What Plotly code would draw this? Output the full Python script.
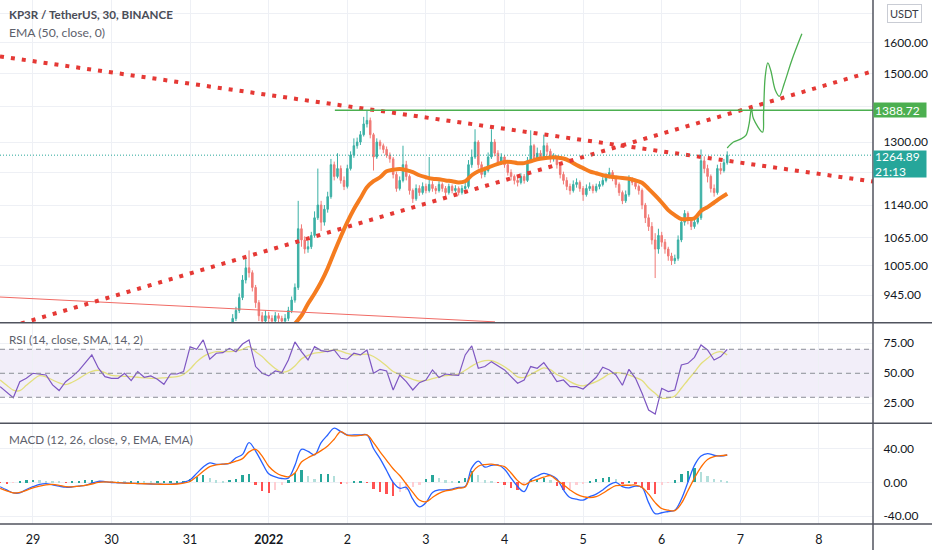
import math
import pandas as pd
import plotly.graph_objects as go
from plotly.subplots import make_subplots

# ---- price data (hourly candles) ----
candle_start = "2021-12-31 12:00"
first_open = 870
closes = [880, 900, 915, 940, 975, 1000, 990, 960, 930, 905, 895, 905,
          900, 895, 905, 900, 895, 900, 915, 935, 960, 1085, 1060, 1040,
          1045, 1070, 1110, 1140, 1100, 1130, 1160, 1240, 1210, 1230, 1200, 1185,
          1230, 1265, 1290, 1300, 1320, 1350, 1360, 1320, 1260, 1300, 1290, 1280,
          1265, 1255, 1215, 1180, 1200, 1240, 1210, 1175, 1155, 1180, 1170, 1185,
          1175, 1190, 1180, 1175, 1190, 1180, 1170, 1185, 1175, 1180, 1170, 1180,
          1185, 1240, 1260, 1300, 1240, 1215, 1225, 1260, 1300, 1270, 1245, 1260,
          1240, 1220, 1210, 1200, 1195, 1210, 1200, 1250, 1290, 1255, 1270, 1260,
          1290, 1275, 1255, 1260, 1240, 1215, 1200, 1185, 1175, 1190, 1195, 1180,
          1165, 1180, 1185, 1175, 1185, 1190, 1200, 1210, 1220, 1205, 1190, 1170,
          1150, 1165, 1200, 1195, 1185, 1175, 1140, 1110, 1090, 1060, 1040, 1070,
          1055, 1040, 1025, 1015, 1020, 1060, 1100, 1120, 1105, 1090, 1100, 1110,
          1250, 1230, 1210, 1180, 1170, 1230, 1225, 1245, 1264.89]
highs = [888, 908, 922, 948, 985, 1020, 1037, 995, 965, 935, 912, 915,
         912, 906, 912, 910, 905, 908, 922, 942, 968, 1150, 1095, 1068,
         1058, 1078, 1125, 1230, 1150, 1140, 1172, 1255, 1248, 1270, 1238, 1210,
         1240, 1275, 1310, 1312, 1330, 1370, 1388.72, 1368, 1325, 1310, 1306, 1296,
         1288, 1272, 1260, 1222, 1210, 1290, 1250, 1215, 1180, 1190, 1188, 1195,
         1192, 1260, 1198, 1186, 1198, 1195, 1186, 1192, 1190, 1188, 1185, 1188,
         1195, 1252, 1280, 1335, 1305, 1248, 1235, 1272, 1335, 1308, 1278, 1270,
         1265, 1246, 1228, 1215, 1208, 1218, 1216, 1260, 1332, 1295, 1285, 1278,
         1320, 1298, 1282, 1270, 1265, 1245, 1222, 1208, 1192, 1200, 1205, 1200,
         1186, 1190, 1195, 1190, 1192, 1198, 1208, 1218, 1232, 1226, 1210, 1195,
         1175, 1175, 1213, 1208, 1200, 1190, 1180, 1145, 1118, 1100, 1075, 1085,
         1078, 1062, 1045, 1032, 1028, 1070, 1110, 1128, 1125, 1112, 1108, 1120,
         1280, 1262, 1240, 1215, 1190, 1240, 1245, 1255, 1275]
lows = [862, 875, 895, 910, 935, 968, 980, 952, 920, 895, 885, 888,
        890, 886, 888, 892, 885, 888, 895, 910, 930, 955, 1045, 1030,
        1032, 1040, 1065, 1105, 1080, 1092, 1122, 1155, 1200, 1205, 1192, 1176,
        1180, 1225, 1258, 1282, 1292, 1315, 1340, 1310, 1225, 1255, 1280, 1270,
        1258, 1245, 1205, 1172, 1175, 1195, 1200, 1165, 1145, 1150, 1162, 1165,
        1168, 1170, 1172, 1166, 1170, 1172, 1162, 1165, 1168, 1170, 1163, 1165,
        1175, 1180, 1232, 1255, 1230, 1205, 1208, 1220, 1255, 1262, 1238, 1240,
        1232, 1212, 1200, 1190, 1185, 1190, 1192, 1196, 1245, 1248, 1250, 1252,
        1255, 1265, 1245, 1248, 1230, 1205, 1190, 1176, 1165, 1170, 1182, 1172,
        1150, 1160, 1174, 1168, 1170, 1178, 1185, 1195, 1205, 1198, 1182, 1162,
        1142, 1145, 1160, 1188, 1178, 1165, 1130, 1098, 1080, 1050, 979, 1030,
        1045, 1030, 1015, 1006, 1008, 1015, 1055, 1092, 1095, 1082, 1085, 1095,
        1105, 1218, 1195, 1170, 1160, 1165, 1215, 1220, 1240]

# EMA 50, every 2 hours
ema_start = "2021-12-31 12:00"
ema = [835, 840, 845, 850, 853, 856, 860, 863, 866, 872, 890, 905,
       928, 948, 971, 999, 1033, 1067, 1100, 1130, 1156, 1183, 1198, 1208,
       1223, 1227, 1229, 1226, 1221, 1213, 1208, 1204, 1203, 1200, 1198, 1195,
       1198, 1213, 1223, 1229, 1236, 1242, 1247, 1247, 1244, 1244, 1249, 1254,
       1257, 1259, 1259, 1256, 1249, 1239, 1231, 1223, 1218, 1213, 1210, 1208,
       1206, 1204, 1200, 1194, 1179, 1163, 1146, 1128, 1116, 1107, 1107, 1109,
       1126, 1135, 1146, 1157, 1167]

# ---- indicators, every 2 hours ----
ind_start = "2021-12-28 14:00"
rsi = [38.9, 33.9, 29.7, 43, 45.8, 50, 49.4, 48.6, 40.3, 35.6, 43, 47.2,
       52.2, 58.3, 65.3, 54.2, 47.2, 45.8, 45.8, 50, 43.9, 51.4, 46.7, 47.8,
       45, 40.8, 49.4, 49.4, 51.4, 72, 70, 77.8, 61.7, 66.7, 67.2, 70.8,
       68, 74.4, 77.8, 55.6, 50, 47.8, 51.9, 50.6, 61.1, 76.1, 68, 61.1,
       72.2, 68.9, 68, 69.4, 62.5, 61.7, 66.7, 65.3, 69.4, 50, 53.3, 51.9,
       36.1, 48.6, 43, 36.1, 42.2, 44.4, 52.8, 46.4, 49.4, 48.6, 48.3, 65.3,
       72.8, 54.2, 55.6, 59.7, 56.1, 52.8, 47.2, 41.7, 44.4, 55.6, 54.2, 58.9,
       51.4, 43, 44.4, 38.9, 38.9, 36.9, 41.7, 46.7, 55, 52.8, 48.6, 40,
       53.3, 45.8, 33.3, 19.4, 16, 37.5, 34.7, 36.1, 56.9, 58.3, 63.3, 73.6,
       69.4, 61.1, 63.9, 70]
rsi_ma = [44.4, 40, 36, 35.5, 40, 44.4, 48, 47, 44.4, 42, 40.5, 42.5,
          45.5, 49, 51.5, 52.5, 50.5, 48.2, 47.8, 47.5, 47.2, 46.7, 46.2, 45.8,
          45.8, 46.2, 46.7, 47.2, 49, 53.5, 59.5, 63.9, 66.5, 68, 68, 68,
          68.5, 70, 72.2, 68, 64, 58.5, 54, 51, 52, 56, 62, 65,
          66.7, 67.5, 68.5, 69.4, 68.5, 66.5, 65.3, 65.5, 66, 64, 60.5, 56,
          51.5, 49, 47, 45, 43.5, 44, 45.5, 47, 48, 48.5, 49.5, 52.5,
          56, 59, 60.5, 60.5, 58.5, 55.5, 51.5, 47, 46.5, 49, 52, 54.5,
          53, 49, 46.5, 43, 40.5, 39.5, 41, 43, 46, 49.5, 50.5, 50,
          48.5, 46.5, 44, 38, 33.3, 29.2, 29.5, 31, 37.5, 44.4, 51, 58,
          62.5, 66.7, 68, 65.3]
macd = [-5.2, -9, -12.5, -12.5, -8.5, -5.2, -2.5, -1.5, -3, -4.5, -5.8, -5.5,
        -4.5, -3.5, -1, 1.2, 0.8, -0.2, -0.5, -0.8, -1.2, -1.4, -1.6, -2,
        -2.2, -2.4, -2.2, -1.5, 0, 3, 10.6, 18, 23, 21.3, 21.5, 22.5,
        29, 33, 47, 37, 23, 10, 6.5, 4.5, 5, 20, 39, 36.5,
        32.5, 47, 56, 64, 60, 56, 56, 56, 56, 40, 28, 14,
        0, -7, -6, -20, -29, -24, -12, -9, -9, -8, -6, -5,
        17, 25, 18, 20, 20.5, 15.5, 5, -5, -11, 3, 7.5, 10.5,
        8.5, 4, -9, -18, -20, -21, -17, -14, -9, -3, 0, -5,
        -6.5, -4.5, -6, -24, -37, -36, -34.5, -33, -20, 0, 20, 31,
        34, 32, 31, 32.3]
signal = [-7.1, -10, -12.5, -12, -9.5, -6.5, -4.5, -3, -2.5, -3.5, -5, -5.5,
          -4.5, -3.5, -2, -0.2, 0.5, 0.2, -0.4, -0.9, -1.2, -1.5, -1.7, -1.9,
          -2.2, -2.4, -2.5, -2, -1, 1, 6.7, 13, 18.5, 20.5, 21.5, 22.5,
          25, 28, 36, 39, 31, 19, 12, 8, 6.5, 11, 24, 29,
          33, 37.5, 43, 51, 60, 55.5, 55, 55.5, 56, 47, 36, 26,
          16, 8, -2, -12, -21, -23, -18, -13, -10, -9, -7, -5.5,
          11, 19, 21, 21.5, 20, 18.5, 11, 2, -3, 1, 3.5, 6,
          8, 2.5, -3, -9, -14, -17, -18, -17, -13, -8, -4, -3.5,
          -3.5, -3.2, -6, -14, -24, -31, -33, -33.5, -25, -10, 5, 18,
          27, 30.5, 31.5, 32.3]
hist = [-1, -1.5, -1, 0.5, 2, 2.5, 2, 1.5, 0.5, 0.3, -0.5, 1,
        1.5, 2, 2, 1.5, 0.8, 0.5, 0.4, 0.3, 0.3, 0.5, 0.4, 0.2,
        0.3, 0.5, 0.6, 0.8, 1, 3, 6, 8.5, 5, 2, 1.5, 2.5,
        4, 8, 10, -4, -11, -13, -9, -4, 2, 11, 14, 7,
        4, 9, 10, 7, -2, -1.5, 0.5, 0.5, -1, -8, -12, -14,
        -17, -12, -9, -6, -3, 3, 8, 5, 2, 1, 1, 5,
        13, 8, 2, 1, -1, -3, -7, -9, -4, 3, 4, 4.5,
        2, -5, -9, -8, -3, -2, 1, 3, 5, 5.5, 3, -2,
        1.5, -2, -6, -9, -14, -3, -1, 2, 9, 13, 16, 12,
        7, 4, 2.5, 1.5]

# ---- drawings on the chart ----
view_start, view_end = "2021-12-28 13:57", "2022-01-08 16:31"
desc_line_p = [1554, 1197]
asc_line_p = [879, 1507]
red_line_t = [view_start, "2022-01-03 21:06"]
red_line_p = [941, 893.5]
level_t = ["2022-01-01 20:12", view_end]
level_price = 1388.72
last_price = 1264.89
proj_t = ["2022-01-06 20:00", "2022-01-06 21:54", "2022-01-06 23:54", "2022-01-07 01:42",
          "2022-01-07 02:42", "2022-01-07 03:24", "2022-01-07 04:00", "2022-01-07 06:48",
          "2022-01-07 07:06", "2022-01-07 07:36", "2022-01-07 08:24", "2022-01-07 09:18",
          "2022-01-07 10:42", "2022-01-07 11:54", "2022-01-07 13:24", "2022-01-07 15:42",
          "2022-01-07 18:48"]
proj_p = [1284, 1300, 1307, 1318, 1351, 1394, 1365, 1327, 1379, 1489, 1533, 1509,
          1448, 1430, 1468, 1541, 1629]

day_ticks = ["2021-12-29", "2021-12-30", "2021-12-31", "2022-01-01", "2022-01-02", "2022-01-03",
             "2022-01-04", "2022-01-05", "2022-01-06", "2022-01-07", "2022-01-08"]
day_labels = ["29", "30", "31", "<b>2022</b>", "2", "3", "4", "5", "6", "7", "8"]
# 1220 / 1400 / 1700 sit under the price badges, so only their grid lines show
price_ticks = [945, 1005, 1065, 1140, 1220, 1300, 1400, 1500, 1600, 1700]
price_labels = ["945.00", "1005.00", "1065.00", "1140.00", "", "1300.00", "",
                "1500.00", "1600.00", ""]

FONT = "Lato"
GRID = "#eef0f5"
TXT = "#131722"

candle_t = pd.date_range(candle_start, periods=len(closes), freq="1h")
opens = [first_open] + closes[:-1]
ema_t = pd.date_range(ema_start, periods=len(ema), freq="2h")
ind_t = pd.date_range(ind_start, periods=len(rsi), freq="2h")

fig = make_subplots(rows=3, cols=1, shared_xaxes=True, vertical_spacing=0,
                    row_heights=[0.616, 0.192, 0.192])

# price pane
fig.add_trace(go.Candlestick(
    x=candle_t, open=opens, high=highs, low=lows, close=closes,
    increasing=dict(line=dict(color="#3bb0a5", width=1), fillcolor="#3bb0a5"),
    decreasing=dict(line=dict(color="#f07a76", width=1), fillcolor="#f07a76"),
    whiskerwidth=0, showlegend=False, hoverinfo="skip"), row=1, col=1)
fig.add_trace(go.Scatter(x=ema_t, y=ema, mode="lines", line=dict(color="#f57c1f", width=4),
                         line_shape="spline", showlegend=False), row=1, col=1)
fig.add_trace(go.Scatter(x=red_line_t, y=red_line_p, mode="lines",
                         line=dict(color="#f06a64", width=1), showlegend=False), row=1, col=1)
for pts in (desc_line_p, asc_line_p):
    fig.add_trace(go.Scatter(x=[view_start, view_end], y=pts, mode="lines",
                             line=dict(color="#e53935", width=4, dash="4px,7px"),
                             showlegend=False), row=1, col=1)
fig.add_trace(go.Scatter(x=level_t, y=[level_price, level_price], mode="lines",
                         line=dict(color="#4caf50", width=1.5), showlegend=False), row=1, col=1)
fig.add_trace(go.Scatter(x=proj_t, y=proj_p, mode="lines", line_shape="spline",
                         line=dict(color="#4caf50", width=1.3), showlegend=False), row=1, col=1)
fig.add_trace(go.Scatter(x=[view_start, view_end], y=[last_price, last_price], mode="lines",
                         line=dict(color="#26a69a", width=1, dash="1px,2px"),
                         showlegend=False), row=1, col=1)

# RSI pane
fig.add_shape(type="rect", xref="paper", x0=0, x1=1, yref="y2", y0=30, y1=70,
              fillcolor="rgba(126,87,194,0.1)", line_width=0, layer="below")
for lvl in (70, 50, 30):
    fig.add_shape(type="line", xref="paper", x0=0, x1=1, yref="y2", y0=lvl, y1=lvl,
                  line=dict(color="#8a8d96", width=1, dash="5px,4px"))
fig.add_trace(go.Scatter(x=ind_t, y=rsi_ma, mode="lines", line_shape="spline",
                         line=dict(color="#e3df7d", width=1.3), showlegend=False), row=2, col=1)
fig.add_trace(go.Scatter(x=ind_t, y=rsi, mode="lines",
                         line=dict(color="#7e57c2", width=1.2), showlegend=False), row=2, col=1)

# MACD pane
hist_colors = []
for i, v in enumerate(hist):
    prev = hist[i - 1] if i else v
    if v >= 0:
        hist_colors.append("#26a69a" if v >= prev else "#b2dfdb")
    else:
        hist_colors.append("#ff5252" if v <= prev else "#ffcdd2")
fig.add_trace(go.Bar(x=ind_t, y=hist, marker_color=hist_colors, marker_line_width=0,
                     width=0.7 * 3600 * 1000, showlegend=False), row=3, col=1)
fig.add_trace(go.Scatter(x=ind_t, y=macd, mode="lines", line_shape="spline",
                         line=dict(color="#2962ff", width=1.3), showlegend=False), row=3, col=1)
fig.add_trace(go.Scatter(x=ind_t, y=signal, mode="lines", line_shape="spline",
                         line=dict(color="#ff6d00", width=1.3), showlegend=False), row=3, col=1)

fig.update_xaxes(range=[view_start, view_end], tickvals=day_ticks, ticktext=day_labels,
                 showgrid=True, gridcolor=GRID, zeroline=False, showline=False,
                 rangeslider_visible=False, tickfont=dict(family=FONT, size=12.5, color=TXT),
                 ticks="outside", ticklen=4, tickcolor="rgba(0,0,0,0)")
fig.update_xaxes(showticklabels=False, row=1, col=1)
fig.update_xaxes(showticklabels=False, row=2, col=1)
fig.update_xaxes(showticklabels=True, row=3, col=1)

axis_style = dict(side="right", showgrid=True, gridcolor=GRID, zeroline=False, showline=False,
                  ticks="outside", ticklen=7, tickcolor="rgba(0,0,0,0)",
                  tickfont=dict(family=FONT, size=12, color=TXT))
fig.update_yaxes(type="log", range=[math.log10(892), math.log10(1748)], tickvals=price_ticks,
                 ticktext=price_labels, domain=[0.3842, 1], row=1, col=1, **axis_style)
fig.update_yaxes(range=[8.33, 92.17], tickvals=[25, 50, 75],
                 ticktext=["25.00", "50.00", "75.00"], domain=[0.1922, 0.3842],
                 row=2, col=1, **axis_style)
fig.update_yaxes(range=[-49.3, 69.8], tickvals=[-40, 0, 40],
                 ticktext=["-40.00", "0.00", "40.00"], domain=[0, 0.1922],
                 row=3, col=1, **axis_style)

# pane separators and price-scale border
right_edge = 932 / 873
for yp in (0.3842, 0.1922, 0):
    fig.add_shape(type="line", xref="paper", yref="paper", x0=0, x1=right_edge, y0=yp, y1=yp,
                  line=dict(color="#50535e", width=1.5))
fig.add_shape(type="line", xref="paper", yref="paper", x0=1, x1=1, y0=-0.06, y1=1,
              line=dict(color="#50535e", width=1.5))

labels = [
    ("<b>KP3R / TetherUS, 30, BINANCE</b>", 0.9714, 11.6, "#4a4d57"),
    ("EMA (50, close, 0)", 0.9389, 12.2, "#5d606b"),
    ("RSI (14, close, SMA, 14, 2)", 0.3525, 11.7, "#5d606b"),
    ("MACD (12, 26, close, 9, EMA, EMA)", 0.1616, 11.7, "#5d606b"),
]
for text, yp, size, col in labels:
    fig.add_annotation(text=text, xref="paper", yref="paper", x=0.008, y=yp,
                       xanchor="left", yanchor="middle", showarrow=False,
                       font=dict(family=FONT, size=size, color=col))

fig.add_annotation(text="1388.72", xref="paper", yref="y", x=1, y=math.log10(level_price),
                   xanchor="left", yanchor="middle", showarrow=False, align="left",
                   bgcolor="#4caf50", width=50, height=12, borderpad=1,
                   font=dict(family=FONT, size=12, color="white"))
fig.add_annotation(text="1264.89<br>21:13", xref="paper", yref="y", x=1,
                   y=math.log10(last_price), yshift=5, xanchor="left", yanchor="top",
                   showarrow=False, align="left", bgcolor="#26a69a", width=50, height=24,
                   borderpad=1, font=dict(family=FONT, size=12, color="white"))
fig.add_annotation(text="USDT", xref="paper", yref="paper", x=887 / 873, y=1 - 13.5 / 524,
                   xanchor="left", yanchor="middle", showarrow=False, bgcolor="white",
                   bordercolor="#c9ccd4", borderwidth=1, borderpad=2,
                   font=dict(family=FONT, size=11, color="#3a3d46"))

fig.update_layout(width=932, height=550, margin=dict(l=0, r=59, t=0, b=26),
                  paper_bgcolor="white", plot_bgcolor="white", boxgap=0.35,
                  bargap=0, hovermode=False, font=dict(family=FONT, color=TXT))

# the page's default body margin would push the 932x550 figure off the window
fig.write_html("out.html", config={"displayModeBar": False},
               post_script="document.body.style.margin='0px';")
